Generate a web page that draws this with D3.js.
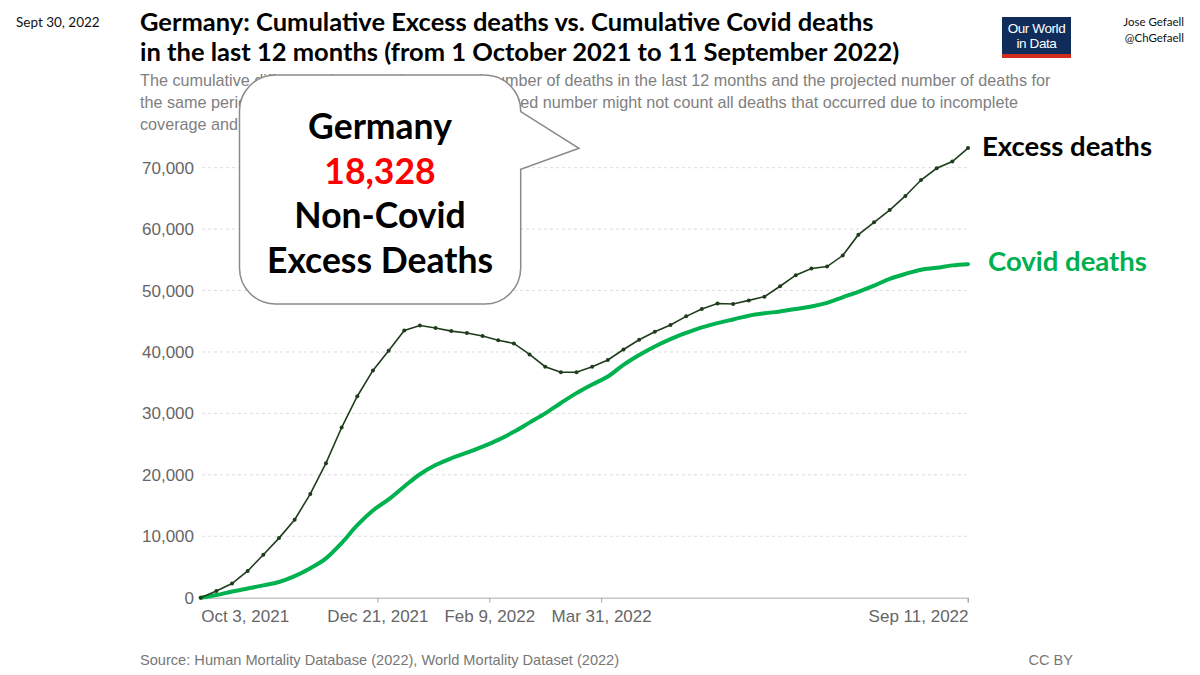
<!DOCTYPE html>
<html>
<head>
<meta charset="utf-8">
<script src="https://cdn.jsdelivr.net/npm/d3@7"></script>
<style>
  body { margin: 0; background: #fff; }
  svg { display: block; }
</style>
</head>
<body>
<svg id="chart" width="1200" height="675"></svg>
<script>
// weekly dates, 3 Oct 2021 .. 11 Sep 2022
const weeks = [
  "2021-10-03","2021-10-10","2021-10-17","2021-10-24","2021-10-31","2021-11-07","2021-11-14",
  "2021-11-21","2021-11-28","2021-12-05","2021-12-12","2021-12-19","2021-12-26","2022-01-02",
  "2022-01-09","2022-01-16","2022-01-23","2022-01-30","2022-02-06","2022-02-13","2022-02-20",
  "2022-02-27","2022-03-06","2022-03-13","2022-03-20","2022-03-27","2022-04-03","2022-04-10",
  "2022-04-17","2022-04-24","2022-05-01","2022-05-08","2022-05-15","2022-05-22","2022-05-29",
  "2022-06-05","2022-06-12","2022-06-19","2022-06-26","2022-07-03","2022-07-10","2022-07-17",
  "2022-07-24","2022-07-31","2022-08-07","2022-08-14","2022-08-21","2022-08-28","2022-09-04",
  "2022-09-11"
];
const excessDeaths = [
  0, 1100, 2300, 4350, 7000, 9700, 12700, 16900, 21900, 27700,
  32800, 37000, 40200, 43500, 44300, 43900, 43400, 43100, 42600, 41900,
  41400, 39600, 37600, 36700, 36700, 37600, 38700, 40400, 42000, 43300,
  44400, 45800, 47000, 47900, 47800, 48400, 49000, 50700, 52500, 53600,
  53900, 55700, 59100, 61100, 63100, 65400, 68000, 69900, 71000, 73200
];
const covidDeaths = [
  0, 440, 1000, 1500, 2000, 2550, 3500, 4800, 6400, 8900,
  11800, 14200, 16000, 18100, 20100, 21600, 22700, 23600, 24600, 25700,
  27000, 28500, 30000, 31700, 33300, 34700, 36000, 37900, 39500, 40900,
  42100, 43100, 44000, 44700, 45300, 45900, 46300, 46600, 47000, 47400,
  48000, 48900, 49800, 50800, 51900, 52700, 53400, 53700, 54100, 54300
];
const yTicks = [0, 10000, 20000, 30000, 40000, 50000, 60000, 70000];
const xTicks = ["2021-10-03", "2021-12-21", "2022-02-09", "2022-03-31", "2022-09-11"];

const titleLines = [
  "Germany: Cumulative Excess deaths vs. Cumulative Covid deaths",
  "in the last 12 months (from 1 October 2021 to 11 September 2022)"
];
const subtitleLines = [
  "The cumulative difference between the reported number of deaths in the last 12 months and the projected number of deaths for",
  "the same period based on previous years. The reported number might not count all deaths that occurred due to incomplete",
  "coverage and delays in reporting."
];
const calloutLines = ["Germany", "18,328", "Non-Covid", "Excess Deaths"];

const parse = d3.utcParse("%Y-%m-%d");
const fmtDate = d3.utcFormat("%b %-d, %Y");
const calibri = "Lato, 'Open Sans', sans-serif";
const helv = "'Liberation Sans', Arial, sans-serif";

const svg = d3.select("#chart");

const x = d3.scaleUtc()
  .domain([parse(weeks[0]), parse(weeks[weeks.length - 1])])
  .range([200.7, 968]);
const y = d3.scaleLinear()
  .domain([0, 70000])
  .range([597.7, 167.7]);

// header
svg.append("text").attr("x", 16).attr("y", 27)
  .attr("font-family", calibri).attr("font-size", 13.5).attr("fill", "#111")
  .text("Sept 30, 2022");

svg.append("g").selectAll("text").data(titleLines).join("text")
  .attr("x", 140).attr("y", (d, i) => 31 + i * 30)
  .attr("font-family", calibri).attr("font-weight", 700).attr("font-size", 25.5)
  .attr("fill", "#000")
  .text(d => d);

svg.append("g").selectAll("text").data(subtitleLines).join("text")
  .attr("x", 140).attr("y", (d, i) => 86 + i * 22)
  .attr("font-family", helv).attr("font-size", 16.2).attr("fill", "#808080")
  .text(d => d);

// logo
const logo = svg.append("g").attr("transform", "translate(1002,17)");
logo.append("rect").attr("width", 69).attr("height", 40).attr("fill", "#0f2c5a");
logo.append("rect").attr("y", 37).attr("width", 69).attr("height", 4).attr("fill", "#d42b21");
logo.selectAll("text").data(["Our World", "in Data"]).join("text")
  .attr("x", 34.5).attr("y", (d, i) => 16 + i * 15)
  .attr("text-anchor", "middle")
  .attr("font-family", helv).attr("font-size", 13.5).attr("fill", "#fff")
  .attr("letter-spacing", -0.4)
  .text(d => d);

svg.append("g").selectAll("text").data(["Jose Gefaell", "@ChGefaell"]).join("text")
  .attr("x", 1184).attr("y", (d, i) => 26 + i * 16)
  .attr("text-anchor", "end")
  .attr("font-family", calibri).attr("font-size", 11.5).attr("fill", "#111")
  .text(d => d);

// grid + y labels
const grid = svg.append("g");
grid.selectAll("line").data(yTicks.filter(d => d > 0)).join("line")
  .attr("x1", 202).attr("x2", 968)
  .attr("y1", d => y(d)).attr("y2", d => y(d))
  .attr("stroke", "#dcdcdc").attr("stroke-width", 1)
  .attr("stroke-dasharray", "3,3");
grid.selectAll("text").data(yTicks).join("text")
  .attr("x", 194).attr("y", d => y(d) + 6)
  .attr("text-anchor", "end")
  .attr("font-family", helv).attr("font-size", 17).attr("fill", "#666")
  .text(d => d3.format(",")(d));

// x axis
const xAxis = svg.append("g")
  .attr("transform", `translate(0,${y(0)})`)
  .call(d3.axisBottom(x)
    .tickValues(xTicks.map(parse))
    .tickSize(5)
    .tickFormat(fmtDate));
xAxis.select(".domain").attr("stroke", "#aaa").attr("d", `M200.7,0.5H968V5`);
xAxis.selectAll(".tick line").attr("stroke", "#aaa");
xAxis.selectAll(".tick").filter((d, i) => i === 0).select("line").remove();
xAxis.selectAll(".tick text")
  .attr("font-family", helv).attr("font-size", 17).attr("fill", "#666")
  .attr("dy", "0.95em")
  .attr("text-anchor", (d, i) => i === 0 ? "start" : (i === xTicks.length - 1 ? "end" : "middle"));

// lines
const excessData = weeks.map((w, i) => ({ date: parse(w), value: excessDeaths[i] }));
const covidData = weeks.map((w, i) => ({ date: parse(w), value: covidDeaths[i] }));

svg.append("path").datum(covidData)
  .attr("fill", "none").attr("stroke", "#00b14f").attr("stroke-width", 4)
  .attr("stroke-linejoin", "round").attr("stroke-linecap", "round")
  .attr("d", d3.line().x(d => x(d.date)).y(d => y(d.value)).curve(d3.curveMonotoneX));

svg.append("path").datum(excessData)
  .attr("fill", "none").attr("stroke", "#1f3d1c").attr("stroke-width", 1.6)
  .attr("d", d3.line().x(d => x(d.date)).y(d => y(d.value)));

svg.append("g").selectAll("circle").data(excessData).join("circle")
  .attr("cx", d => x(d.date)).attr("cy", d => y(d.value)).attr("r", 2)
  .attr("fill", "#1f3d1c");

// end labels
svg.append("text").attr("x", 982).attr("y", 156)
  .attr("font-family", calibri).attr("font-weight", 700).attr("font-size", 27.5)
  .attr("fill", "#000").text("Excess deaths");
svg.append("text").attr("x", 988).attr("y", 271)
  .attr("font-family", calibri).attr("font-weight", 700).attr("font-size", 27.5)
  .attr("fill", "#00b050").text("Covid deaths");

// callout bubble
const L = 239.5, T = 75, R = 520.7, B = 304, rad = 36;
const bubble = d3.path();
bubble.moveTo(L + rad, T);
bubble.lineTo(R - rad, T);
bubble.arcTo(R, T, R, T + rad, rad);
bubble.lineTo(R, 111.7);
bubble.lineTo(579, 148.3);
bubble.lineTo(R, 169.3);
bubble.lineTo(R, B - rad);
bubble.arcTo(R, B, R - rad, B, rad);
bubble.lineTo(L + rad, B);
bubble.arcTo(L, B, L, B - rad, rad);
bubble.lineTo(L, T + rad);
bubble.arcTo(L, T, L + rad, T, rad);
bubble.closePath();
svg.append("path").attr("d", bubble.toString())
  .attr("fill", "#fff").attr("stroke", "#8a8a8a").attr("stroke-width", 1.5);

svg.append("g").selectAll("text").data(calloutLines).join("text")
  .attr("x", 380).attr("y", (d, i) => 139 + i * 44.7)
  .attr("text-anchor", "middle")
  .attr("font-family", calibri).attr("font-weight", 700).attr("font-size", 35.5)
  .attr("fill", (d, i) => i === 1 ? "#ff0000" : "#000")
  .text(d => d);

// footer
svg.append("text").attr("x", 140).attr("y", 665)
  .attr("font-family", helv).attr("font-size", 14.6).attr("fill", "#777")
  .text("Source: Human Mortality Database (2022), World Mortality Dataset (2022)");
svg.append("text").attr("x", 1073).attr("y", 665)
  .attr("text-anchor", "end")
  .attr("font-family", helv).attr("font-size", 14.6).attr("fill", "#777")
  .text("CC BY");
</script>
</body>
</html>
